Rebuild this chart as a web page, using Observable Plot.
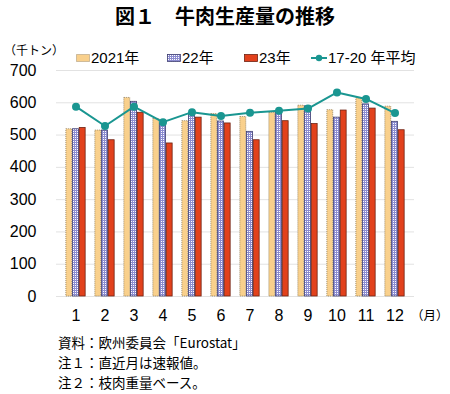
<!DOCTYPE html>
<html>
<head>
<meta charset="utf-8">
<script src="https://cdn.jsdelivr.net/npm/d3@7"></script>
<script src="https://cdn.jsdelivr.net/npm/@observablehq/plot@0.6"></script>
<style>
  html, body { margin: 0; padding: 0; background: #fff; }
  body { width: 450px; height: 394px; position: relative; overflow: hidden;
         font-family: "Liberation Sans", "Noto Sans CJK JP", sans-serif; color: #000; }
  .abs { position: absolute; white-space: nowrap; }
  #title { top: 2px; left: 0; width: 450px; text-align: center; font-size: 20px; font-weight: bold;
           font-family: "Noto Sans CJK JP", sans-serif; line-height: 28px; }
  #unit { top: 41px; left: 4px; font-size: 12px; line-height: 18px; font-family: "Noto Sans CJK JP", sans-serif; }
  #month { top: 306px; left: 411px; font-size: 12.5px; line-height: 18px; font-family: "Noto Sans CJK JP", sans-serif; }
  #chart { top: 60px; left: 0; }
  .leg { top: 49px; font-size: 15px; line-height: 18px; display: flex; align-items: center; z-index: 2; }
  .leg svg { margin-right: 1px; }
  #caption { top: 332px; left: 58px; font-size: 13.5px; line-height: 20px; font-family: "Noto Sans CJK JP", sans-serif; }
</style>
</head>
<body>
<svg width="0" height="0" style="position:absolute">
  <defs>
    <pattern id="p22" width="2" height="2" patternUnits="userSpaceOnUse">
      <rect width="2" height="2" fill="#ffffff"/>
      <rect x="0" y="0" width="2" height="1" fill="#8c8cd0"/>
      <rect x="0" y="0" width="1" height="2" fill="#8c8cd0"/>
    </pattern>
  </defs>
</svg>
<div id="title" class="abs">図１　牛肉生産量の推移</div>
<div id="unit" class="abs">（千トン）</div>
<div id="chart" class="abs"></div>
<div id="month" class="abs">（月）</div>
<div id="caption" class="abs">資料：欧州委員会「Eurostat」<br>注１：直近月は速報値。<br>注２：枝肉重量ベース。</div>
<script>
const months = [1, 2, 3, 4, 5, 6, 7, 8, 9, 10, 11, 12];
const y2021 = [518, 514, 615, 550, 543, 565, 556, 569, 591, 577, 614, 588];
const y2022 = [518, 514, 603, 535, 566, 542, 510, 569, 589, 554, 595, 541];
const y2023 = [522, 484, 569, 474, 554, 536, 484, 543, 534, 576, 582, 515];
const avg1720 = [588, 528, 588, 540, 571, 559, 569, 575, 582, 632, 612, 568];
const yTicks = [0, 100, 200, 300, 400, 500, 600, 700];
const legendLabels = ["2021年", "22年", "23年", "17-20 年平均"];

const c2021 = "#f9d08c", s2021 = "#8c7a58";
const c2022 = "url(#p22)", s2022 = "#3c3c70";
const c2023 = "#e2411c", s2023 = "#6e2212";
const cLine = "#1a9691";

const rows = months.map((m, i) => ({m, a: y2021[i], b: y2022[i], c: y2023[i], avg: avg1720[i]}));
const bw = 6.7, band = 29.8, inset = (band - bw) / 2;

const chart = Plot.plot({
  width: 450,
  height: 266,
  marginLeft: 56,
  marginRight: 36,
  marginTop: 10,
  marginBottom: 30,
  style: {fontFamily: "'Liberation Sans', sans-serif", fontSize: "16px", background: "transparent"},
  x: {type: "band", domain: months, padding: 0, label: null, tickSize: 0, tickPadding: 13},
  y: {domain: [0, 700], ticks: yTicks, label: null, tickSize: 0, tickPadding: 20},
  marks: [
    Plot.gridY(yTicks, {stroke: "#e2e2e2", strokeOpacity: 1}),
    Plot.barY(rows, {x: "m", y: "a", fill: c2021, stroke: s2021, strokeWidth: 0.8, strokeDasharray: "1,1",
      insetLeft: inset, insetRight: inset, dx: -bw}),
    Plot.barY(rows, {x: "m", y: "b", fill: c2022, stroke: s2022, strokeWidth: 0.8,
      insetLeft: inset, insetRight: inset}),
    Plot.barY(rows, {x: "m", y: "c", fill: c2023, stroke: s2023, strokeWidth: 0.8,
      insetLeft: inset, insetRight: inset, dx: bw}),
    Plot.lineY(rows, {x: "m", y: "avg", stroke: cLine, strokeWidth: 2}),
    Plot.dot(rows, {x: "m", y: "avg", fill: cLine, r: 4})
  ]
});
document.getElementById("chart").appendChild(chart);

// legend
const legItems = [
  {left: 76, sw: `<svg width="14" height="8"><rect x="0.5" y="0.5" width="13" height="7" fill="${c2021}" stroke="${s2021}" stroke-width="0.8" stroke-dasharray="1,1"/></svg>`},
  {left: 167, sw: `<svg width="14" height="8"><rect x="0.5" y="0.5" width="13" height="7" fill="${c2022}" stroke="${s2022}" stroke-width="0.8"/></svg>`},
  {left: 244, sw: `<svg width="14" height="8"><rect x="0.5" y="0.5" width="13" height="7" fill="${c2023}" stroke="${s2023}" stroke-width="0.8"/></svg>`},
  {left: 311, sw: `<svg width="16" height="10"><line x1="0" y1="5" x2="16" y2="5" stroke="${cLine}" stroke-width="2"/><circle cx="8" cy="5" r="3.2" fill="${cLine}"/></svg>`}
];
legItems.forEach((it, i) => {
  const d = document.createElement("div");
  d.className = "abs leg";
  d.style.left = it.left + "px";
  d.innerHTML = it.sw + `<span>${legendLabels[i]}</span>`;
  document.body.appendChild(d);
});
</script>
</body>
</html>
